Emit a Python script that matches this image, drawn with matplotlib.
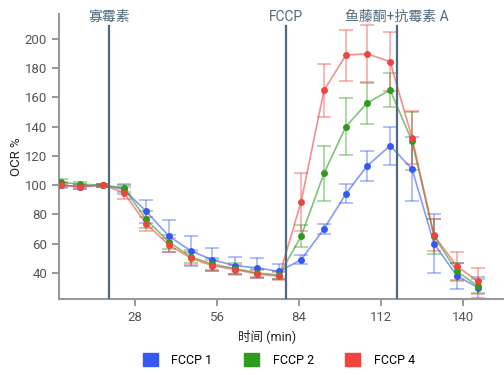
# -*- coding: utf-8 -*-
# OCR 曲线图 (Seahorse 线粒体压力测试)
import matplotlib
matplotlib.use('Agg')
import matplotlib.pyplot as plt
from matplotlib.patches import Patch

plt.rcParams['font.family'] = ['Roboto', 'Noto Sans CJK SC', 'DejaVu Sans']

# 数据
time = [2.7, 9.2, 17.1, 24.2, 31.8, 39.6, 47.1, 54.3, 62.1, 69.6,
        77.2, 84.7, 92.5, 100.0, 107.2, 115.1, 122.6, 130.1, 137.9, 145.1]

fccp1 = [100, 99, 100, 97, 82, 65, 55, 49, 45, 43.5,
         41, 49, 70, 94, 113, 127, 111, 60, 38, 30]
fccp1_err = [2, 2, 1, 3, 8, 11, 10, 8, 6, 7,
             5, 3, 3.5, 6.5, 10, 13, 22, 20, 9, 7]

fccp2 = [102, 100.5, 100, 98, 76.5, 61, 51, 46, 43, 40,
         38.5, 65, 108, 140, 156, 165, 130, 65, 41, 31]
fccp2_err = [2, 1.5, 1, 3, 6, 5, 4.5, 4, 3.5, 3,
             3, 7.5, 19, 19.5, 14, 11.5, 20, 12, 6, 5]

fccp4 = [100, 98.8, 100, 94.7, 73.5, 59, 50, 45, 42.3, 39.3,
         37.7, 88.6, 164.7, 188.8, 189.8, 184.3, 132.3, 65.7, 44.5, 34.3]
fccp4_err = [1.5, 1.5, 1, 4, 5, 5, 4.6, 4, 3.4, 3,
             2.7, 20, 18, 17.5, 19.5, 20, 18, 11, 10, 9]

series = [('FCCP 1', fccp1, fccp1_err, '#3558f5'),
          ('FCCP 2', fccp2, fccp2_err, '#2e9a1e'),
          ('FCCP 4', fccp4, fccp4_err, '#f0443f')]

injections = [(19.1, '寡霉素'), (79.5, 'FCCP'), (117.3, '鱼藤酮+抗霉素 A')]

fig = plt.figure(figsize=(5.04, 3.75), dpi=100)
ax = fig.add_axes([0.117, 0.202, 0.883, 0.761])

for name, y, err, c in series:
    ax.errorbar(time, y, yerr=err, fmt='none', ecolor=c, alpha=0.45,
                elinewidth=1.2, capsize=5, capthick=1.2, zorder=2)
    ax.plot(time, y, '-', color=c, alpha=0.6, lw=1.2, zorder=3)
    ax.plot(time, y, 'o', color=c, ms=5, zorder=4, markeredgewidth=0)

for x, lab in injections:
    ax.plot([x, x], [22, 208.5], color='#4f6a7e', lw=1.6, zorder=5)
    ax.text(x, 215, lab, ha='center', va='center', fontsize=10, color='#4f6a7e')

ax.set_xlim(2, 154)
ax.set_ylim(22, 217)
ax.set_xticks([28, 56, 84, 112, 140])
ax.set_yticks(range(40, 201, 20))
ax.tick_params(colors='#888888', labelcolor='#555555', labelsize=9.5,
               length=5, width=1.2)
for s in ['top', 'right']:
    ax.spines[s].set_visible(False)
for s in ['left', 'bottom']:
    ax.spines[s].set_color('#999999')
    ax.spines[s].set_linewidth(1.5)

ax.set_xlabel('时间 (min)', fontsize=9, color='#222222', labelpad=0)
ax.xaxis.set_label_coords(0.467, -0.105)
ax.set_ylabel('OCR %', fontsize=9.5, color='#222222')
ax.yaxis.set_label_coords(-0.08, 0.5)

handles = [Patch(color=c, label=n) for n, _, _, c in series]
fig.legend(handles=handles, loc='center', bbox_to_anchor=(0.553, 0.04), ncol=3,
           frameon=False, fontsize=9, handlelength=1.2, handleheight=1.2,
           columnspacing=2.5, handletextpad=1.1)

fig.savefig('out.png', dpi=100)
